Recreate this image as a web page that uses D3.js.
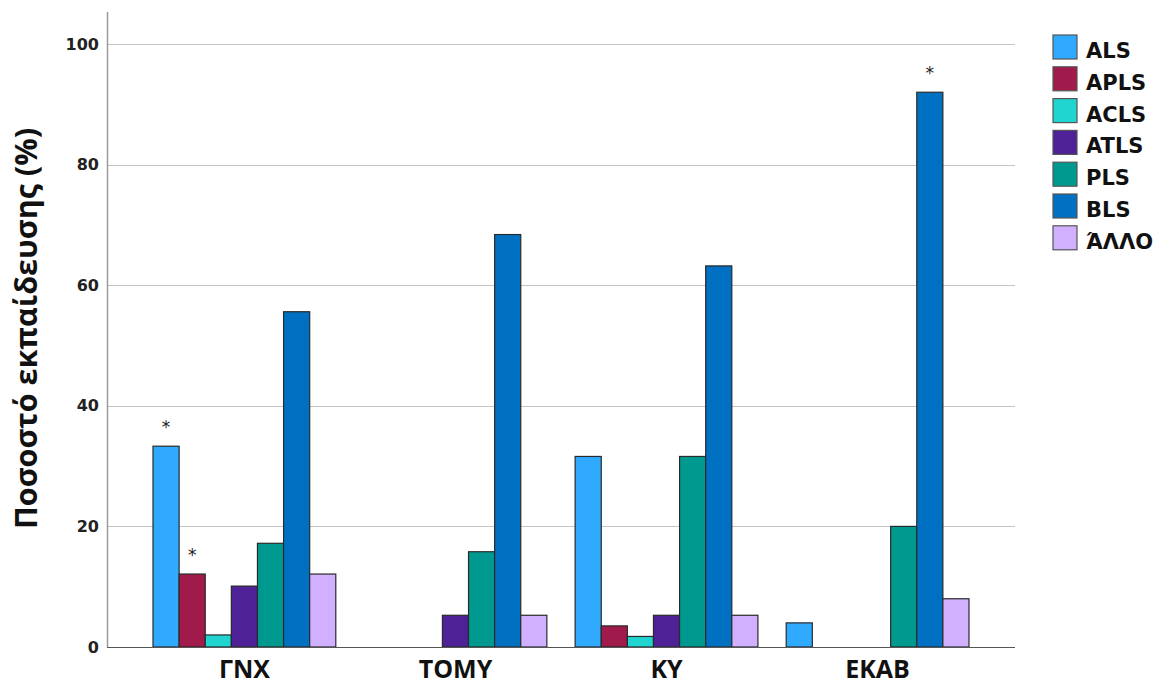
<!DOCTYPE html>
<html>
<head>
<meta charset="utf-8">
<script src="https://cdn.jsdelivr.net/npm/d3@7"></script>
<style>
  html, body { margin: 0; padding: 0; background: #fff; }
  svg { display: block; }
</style>
</head>
<body>
<svg id="chart" width="1174" height="686"></svg>
<script>
// Training type per service (percent of respondents)
const categories = ["ΓΝΧ", "ΤΟΜΥ", "ΚΥ", "ΕΚΑΒ"];
const seriesNames = ["ALS", "APLS", "ACLS", "ATLS", "PLS", "BLS", "ΆΛΛΟ"];
const seriesColors = ["#30aaff", "#a01a4c", "#20d4cf", "#4f2197", "#009990", "#0070c2", "#d0b0ff"];

const valuesALS  = [33.3, 0, 31.6, 4.0];
const valuesAPLS = [12.1, 0, 3.5, 0];
const valuesACLS = [2.0, 0, 1.75, 0];
const valuesATLS = [10.1, 5.26, 5.26, 0];
const valuesPLS  = [17.2, 15.8, 31.6, 20.0];
const valuesBLS  = [55.6, 68.4, 63.2, 92.0];
const valuesALLO = [12.1, 5.26, 5.26, 8.0];

const yTicks = [0, 20, 40, 60, 80, 100];
// Bars flagged with a significance asterisk: [category, series]
const starred = [["ΓΝΧ", "ALS"], ["ΓΝΧ", "APLS"], ["ΕΚΑΒ", "BLS"]];

const seriesValues = [valuesALS, valuesAPLS, valuesACLS, valuesATLS, valuesPLS, valuesBLS, valuesALLO];
const rows = [];
categories.forEach((c, ci) => {
  seriesNames.forEach((s, si) => rows.push({ cat: c, series: s, value: seriesValues[si][ci] }));
});

const svg = d3.select("#chart");
const plotLeft = 107, plotRight = 1015, plotTop = 12, plotBottom = 647;

const x0 = d3.scaleBand().domain(categories).range([plotLeft, plotRight])
  .paddingInner(0.134).paddingOuter(0.218);
const x1 = d3.scaleBand().domain(seriesNames).range([0, x0.bandwidth()]).padding(0);
const y = d3.scaleLinear().domain([0, 100]).range([plotBottom, 44]);
const color = d3.scaleOrdinal().domain(seriesNames).range(seriesColors);

// gridlines
svg.append("g").selectAll("line").data(yTicks.filter(t => t > 0)).join("line")
  .attr("x1", plotLeft).attr("x2", plotRight)
  .attr("y1", d => Math.round(y(d)) + 0.5).attr("y2", d => Math.round(y(d)) + 0.5)
  .attr("stroke", "#c4c4c4").attr("stroke-width", 1.2);

// y axis
const yAxis = d3.axisLeft(y).tickValues(yTicks).tickSize(0).tickPadding(8);
const gy = svg.append("g").attr("transform", `translate(${plotLeft},0)`).call(yAxis);
gy.select(".domain").remove();
gy.selectAll("text")
  .attr("font-family", "DejaVu Sans").attr("font-weight", "bold")
  .attr("font-size", 16).attr("fill", "#222");
svg.append("line").attr("x1", plotLeft + 0.5).attr("x2", plotLeft + 0.5)
  .attr("y1", plotTop).attr("y2", plotBottom)
  .attr("stroke", "#9a9a9a").attr("stroke-width", 1.5);

// bars
const groups = svg.append("g").selectAll("g").data(categories).join("g")
  .attr("transform", d => `translate(${x0(d)},0)`);
groups.selectAll("rect").data(c => rows.filter(r => r.cat === c)).join("rect")
  .attr("x", d => x1(d.series))
  .attr("y", d => y(d.value))
  .attr("width", x1.bandwidth())
  .attr("height", d => y(0) - y(d.value))
  .attr("fill", d => color(d.series))
  .attr("stroke", "#2a2a2a").attr("stroke-width", 1.2);

// x axis baseline
svg.append("line").attr("x1", plotLeft).attr("x2", plotRight)
  .attr("y1", plotBottom + 0.5).attr("y2", plotBottom + 0.5)
  .attr("stroke", "#555").attr("stroke-width", 1.2);

// asterisks
svg.append("g").selectAll("text").data(starred).join("text")
  .attr("x", d => x0(d[0]) + x1(d[1]) + x1.bandwidth() / 2)
  .attr("y", d => {
    const r = rows.find(r => r.cat === d[0] && r.series === d[1]);
    return y(r.value) - 13;
  })
  .attr("text-anchor", "middle")
  .attr("font-family", "DejaVu Sans").attr("font-size", 17).attr("fill", "#222")
  .text("*");

// x axis labels
const xAxis = d3.axisBottom(x0).tickSize(0);
const gx = svg.append("g").attr("transform", `translate(0,${plotBottom})`).call(xAxis);
gx.select(".domain").remove();
gx.selectAll("text")
  .attr("y", 31).attr("dy", null)
  .attr("font-family", "Open Sans").attr("font-weight", "bold")
  .attr("font-size", 25).attr("fill", "#111");

// y axis title
svg.append("text")
  .attr("transform", "translate(37,328.5) rotate(-90)")
  .attr("text-anchor", "middle")
  .attr("font-family", "Open Sans").attr("font-weight", "bold")
  .attr("font-size", 30).attr("fill", "#111")
  .attr("textLength", 401).attr("lengthAdjust", "spacingAndGlyphs")
  .text("Ποσοστό εκπαίδευσης (%)");

// legend
const legend = svg.append("g").attr("transform", "translate(1053,35)");
const li = legend.selectAll("g").data(seriesNames).join("g")
  .attr("transform", (d, i) => `translate(0,${i * 31.8})`);
li.append("rect").attr("width", 24).attr("height", 24)
  .attr("fill", d => color(d)).attr("stroke", "#555").attr("stroke-width", 1.2);
li.append("text").attr("x", 33).attr("y", 23)
  .attr("font-family", "DejaVu Sans").attr("font-weight", "bold")
  .attr("font-size", 21).attr("fill", "#111")
  .text(d => d);
</script>
</body>
</html>
